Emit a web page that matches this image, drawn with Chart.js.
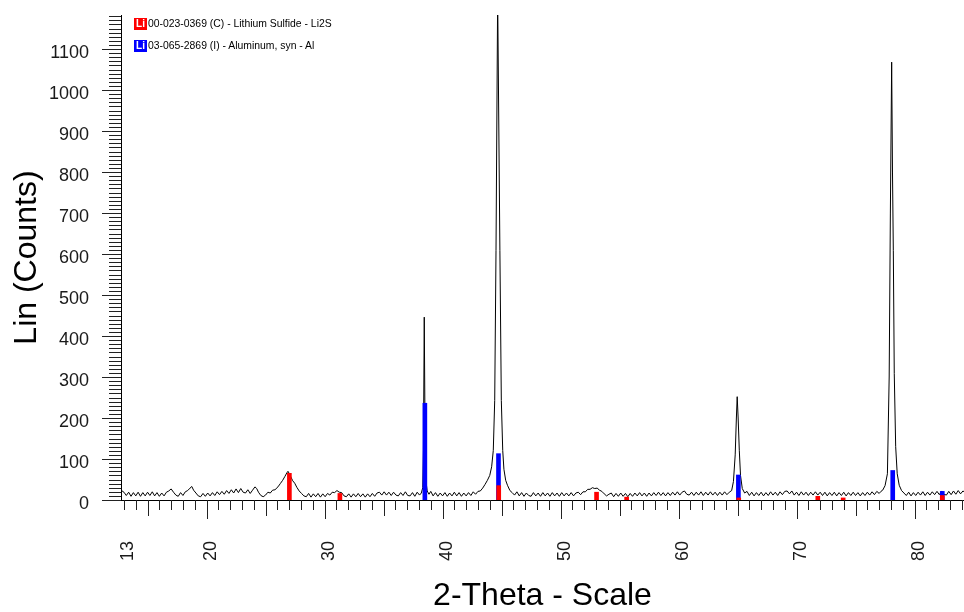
<!DOCTYPE html>
<html lang="en">
<head>
<meta charset="UTF-8">
<title>XRD - Li2S / Al</title>
<script src="https://cdn.jsdelivr.net/npm/chart.js@4.4.1/dist/chart.umd.min.js"></script>
<style>
  body { margin: 0; background: #fff; }
  #wrap { position: relative; width: 964px; height: 612px; }
  .leg { position: absolute; left: 134px; font-family: Arial, "Liberation Sans", sans-serif; font-size: 10.4px; color: #000; line-height: 12px; white-space: nowrap; }
  .ico { display: inline-block; width: 13px; height: 12px; color: #fff; font-weight: bold; font-size: 10px; line-height: 12px; text-align: center; vertical-align: top; margin-right: 1px; }
</style>
</head>
<body>
<div id="wrap">
  <canvas id="chart" width="964" height="612"></canvas>
  <div class="leg" style="top:18px"><span class="ico" style="background:#ff0000">Li</span>00-023-0369 (C) - Lithium Sulfide - Li2S</div>
  <div class="leg" style="top:40px"><span class="ico" style="background:#0000ff">Li</span>03-065-2869 (I) - Aluminum, syn - Al</div>
</div>
<script>
// measured scan: [2-theta, counts]
const scan = [
  [12.8,23],[13.0,19],[13.2,11],[13.4,19],[13.6,9],[13.8,18],[14.0,10],[14.2,19],[14.4,9],[14.6,18],
  [14.8,10],[15.0,19],[15.2,11],[15.4,20],[15.6,10],[15.8,18],[16.0,9],[16.2,17],[16.4,10],[16.6,19],
  [16.8,22],[17.0,27],[17.2,19],[17.4,12],[17.6,9],[17.8,18],[18.0,11],[18.2,20],[18.4,23],[18.6,29],
  [18.75,33],[18.9,24],[19.1,17],[19.3,10],[19.5,8],[19.7,16],[19.9,9],[20.1,17],[20.3,10],[20.5,18],
  [20.7,11],[20.9,20],[21.1,13],[21.3,21],[21.5,14],[21.7,23],[21.9,16],[22.1,25],[22.3,17],[22.5,27],
  [22.7,18],[22.9,28],[23.1,19],[23.3,17],[23.5,25],[23.7,16],[23.9,24],[24.1,32],[24.25,28],[24.4,19],
  [24.6,11],[24.8,8],[25.0,12],[25.2,19],[25.4,17],[25.6,24],[25.8,25],[26.05,32],[26.25,40],[26.45,48],
  [26.65,58],[26.8,66],[26.9,70],[27.0,65],[27.15,56],[27.3,47],[27.47,41],[27.65,31],[27.85,22],[28.05,16],
  [28.25,10],[28.45,8],[28.65,16],[28.85,7],[29.05,15],[29.25,8],[29.45,16],[29.65,7],[29.85,15],[30.05,8],
  [30.25,16],[30.45,12],[30.65,19],[30.85,18],[31.05,23],[31.25,19],[31.45,18],[31.65,10],[31.85,8],[32.05,15],
  [32.25,7],[32.45,15],[32.65,8],[32.85,16],[33.05,8],[33.25,15],[33.45,7],[33.65,15],[33.85,8],[34.05,16],
  [34.25,9],[34.45,17],[34.65,19],[34.85,12],[35.05,20],[35.25,12],[35.45,19],[35.65,11],[35.85,19],[36.05,12],
  [36.25,10],[36.45,18],[36.65,11],[36.85,20],[37.05,11],[37.25,10],[37.45,18],[37.65,9],[37.85,19],[38.05,12],
  [38.2,17],[38.32,30],[38.38,120],[38.45,446],[38.52,150],[38.6,45],[38.7,22],[38.85,14],[39.0,21],[39.2,10],
  [39.4,18],[39.6,9],[39.8,17],[40.0,10],[40.2,18],[40.4,9],[40.6,17],[40.8,10],[41.0,19],[41.2,10],
  [41.4,18],[41.6,9],[41.8,17],[42.0,10],[42.2,18],[42.4,11],[42.6,20],[42.8,14],[43.0,21],[43.2,22],
  [43.4,29],[43.6,38],[43.8,48],[44.0,60],[44.16,81],[44.3,121],[44.42,243],[44.53,608],[44.67,1230],[44.86,608],
  [44.98,243],[45.1,121],[45.2,75],[45.35,48],[45.5,36],[45.71,23],[45.9,18],[46.1,12],[46.3,20],[46.5,10],
  [46.7,18],[46.9,9],[47.1,17],[47.3,11],[47.5,9],[47.7,18],[47.9,10],[48.1,17],[48.3,9],[48.5,18],
  [48.7,10],[48.9,17],[49.1,9],[49.3,18],[49.5,10],[49.7,17],[49.9,9],[50.1,18],[50.3,10],[50.5,17],
  [50.7,10],[50.9,18],[51.1,10],[51.3,17],[51.5,19],[51.7,13],[51.9,20],[52.1,20],[52.3,26],[52.5,26],
  [52.7,30],[52.9,28],[53.1,29],[53.3,24],[53.5,21],[53.7,15],[53.9,10],[54.1,14],[54.3,17],[54.5,8],
  [54.7,16],[54.9,9],[55.1,17],[55.3,9],[55.5,16],[55.7,8],[55.9,16],[56.1,9],[56.3,17],[56.5,10],
  [56.7,18],[56.9,10],[57.1,17],[57.3,9],[57.5,17],[57.7,10],[57.9,18],[58.1,11],[58.3,19],[58.5,11],
  [58.7,18],[58.9,10],[59.1,18],[59.3,11],[59.5,19],[59.7,12],[59.9,20],[60.1,12],[60.3,19],[60.5,22],
  [60.7,14],[60.9,12],[61.1,19],[61.3,11],[61.5,19],[61.7,12],[61.9,20],[62.1,11],[62.3,19],[62.5,12],
  [62.7,20],[62.9,12],[63.1,19],[63.3,11],[63.5,19],[63.7,12],[63.9,20],[64.1,13],[64.3,19],[64.5,23],
  [64.65,45],[64.8,110],[64.9,200],[64.97,252],[65.05,200],[65.15,120],[65.25,60],[65.4,28],[65.6,17],[65.8,21],
  [66.0,11],[66.2,19],[66.4,10],[66.6,18],[66.8,11],[67.0,19],[67.2,10],[67.4,18],[67.6,11],[67.8,20],
  [68.0,12],[68.2,19],[68.4,11],[68.6,20],[68.8,13],[69.0,21],[69.2,22],[69.4,15],[69.6,22],[69.8,12],
  [70.0,19],[70.2,11],[70.4,20],[70.6,12],[70.8,19],[71.0,11],[71.2,19],[71.4,12],[71.6,20],[71.8,12],
  [72.0,19],[72.2,11],[72.4,19],[72.6,10],[72.8,18],[73.0,11],[73.2,19],[73.4,10],[73.6,18],[73.8,11],
  [74.0,19],[74.2,10],[74.4,18],[74.6,11],[74.8,19],[75.0,11],[75.2,18],[75.4,10],[75.6,18],[75.8,11],
  [76.0,19],[76.2,12],[76.4,20],[76.6,13],[76.8,21],[77.0,16],[77.15,21],[77.3,24],[77.5,35],[77.7,64],
  [77.85,300],[77.95,700],[78.06,1068],[78.13,800],[78.2,608],[78.28,309],[78.4,130],[78.53,64],[78.7,36],[78.9,23],
  [79.1,17],[79.3,11],[79.5,19],[79.7,10],[79.9,18],[80.1,11],[80.3,19],[80.5,12],[80.7,20],[80.9,11],
  [81.1,19],[81.3,12],[81.5,20],[81.7,13],[81.9,21],[82.1,13],[82.3,22],[82.5,14],[82.7,12],[82.9,21],
  [83.1,13],[83.3,22],[83.5,14],[83.7,23],[83.9,15],[84.1,22],[84.3,18]
];

// reference patterns: [2-theta, stick height]
const li2sLines = [[27.02,65],[31.3,16],[44.76,35],[53.05,19],[55.6,7],[65.1,5],[71.8,9],[73.95,5],[82.35,11]];
const alLines = [[38.5,236],[44.74,113],[65.07,61],[78.15,72],[82.35,21]];

const xTickLabels = [13, 20, 30, 40, 50, 60, 70, 80];
const yTickLabels = [0, 100, 200, 300, 400, 500, 600, 700, 800, 900, 1000, 1100];

const toXY = arr => arr.map(p => ({x: p[0], y: p[1]}));

// small tick marks along both axes, like the diffractometer software
const axisTicks = {
  id: 'axisTicks',
  afterDraw(chart) {
    const ctx = chart.ctx;
    const xs = chart.scales.x, ys = chart.scales.y;
    const area = chart.chartArea;
    ctx.save();
    ctx.strokeStyle = '#222';
    ctx.lineWidth = 1;
    ctx.beginPath();
    for (let v = 13; v <= 84; v++) {
      const px = Math.round(xs.getPixelForValue(v)) + 0.5;
      const len = v % 10 === 0 ? 19 : (v % 5 === 0 ? 16 : 10);
      ctx.moveTo(px, area.bottom);
      ctx.lineTo(px, area.bottom + len);
    }
    for (let v = 0; v <= 1180; v += 10) {
      const py = Math.round(ys.getPixelForValue(v)) + 0.5;
      const len = v % 100 === 0 ? 19 : 12;
      ctx.moveTo(area.left, py);
      ctx.lineTo(area.left - len, py);
    }
    ctx.stroke();
    ctx.restore();
  }
};

const txt = '#1a1a1a';

new Chart(document.getElementById('chart'), {
  type: 'bar',
  data: {
    datasets: [
      {
        type: 'bar',
        label: '00-023-0369 (C) - Lithium Sulfide - Li2S',
        data: toXY(li2sLines),
        backgroundColor: '#ff0000',
        barThickness: 4,
        grouped: false,
        order: 0
      },
      {
        type: 'bar',
        label: '03-065-2869 (I) - Aluminum, syn - Al',
        data: toXY(alLines),
        backgroundColor: '#0000ff',
        barThickness: 4,
        grouped: false,
        order: 1
      },
      {
        type: 'line',
        label: 'scan',
        data: toXY(scan),
        borderColor: '#000',
        borderWidth: 1,
        pointRadius: 0,
        tension: 0,
        order: 2
      }
    ]
  },
  options: {
    responsive: false,
    animation: false,
    layout: { padding: { top: 15, right: 0, bottom: 0, left: 0 } },
    plugins: { legend: { display: false }, tooltip: { enabled: false } },
    scales: {
      x: {
        type: 'linear',
        min: 12.75,
        max: 84.19,
        offset: false,
        // tick marks are drawn by the plugin; tickLength only spaces the labels
        grid: { display: false, drawTicks: true, tickLength: 41 },
        border: { display: true, color: '#000', width: 1 },
        afterBuildTicks: s => { s.ticks = xTickLabels.map(v => ({ value: v })); },
        afterFit: s => { s.height = 112; },
        ticks: {
          autoSkip: false,
          minRotation: 90,
          maxRotation: 90,
          padding: 0,
          labelOffset: 4,
          color: txt,
          font: { family: 'Arial', size: 18 },
          callback: v => String(v)
        },
        title: {
          display: true,
          text: '2-Theta - Scale',
          color: '#000',
          font: { family: 'Arial', size: 32, lineHeight: 1 },
          padding: { top: -3, bottom: 0 }
        }
      },
      y: {
        type: 'linear',
        min: 0,
        max: 1183,
        grid: { display: false, drawTicks: true, tickLength: 32 },
        border: { display: true, color: '#000', width: 1 },
        afterBuildTicks: s => { s.ticks = yTickLabels.map(v => ({ value: v })); },
        afterFit: s => { s.width = 121; },
        ticks: {
          padding: 0,
          labelOffset: 4,
          color: txt,
          font: { family: 'Arial', size: 18 },
          callback: v => String(v)
        },
        title: {
          display: true,
          text: 'Lin (Counts)',
          color: '#000',
          font: { family: 'Arial', size: 32, lineHeight: 1 },
          padding: { top: 11, bottom: 0 }
        }
      }
    }
  },
  plugins: [axisTicks]
});
</script>
</body>
</html>
